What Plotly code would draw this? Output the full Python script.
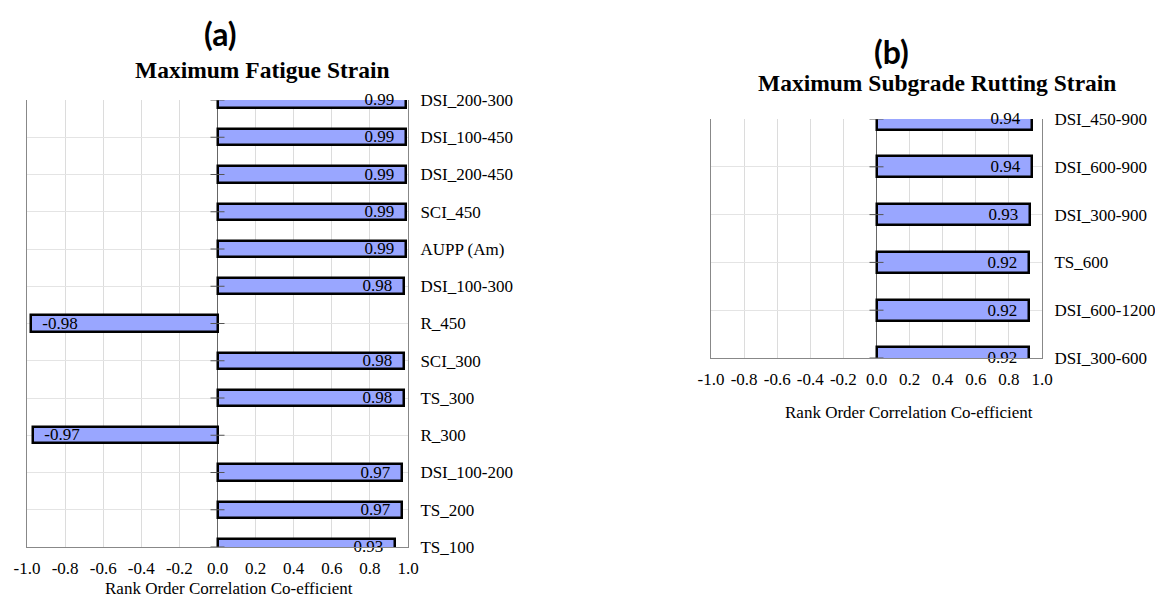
import plotly.graph_objects as go

# Panel (a): maximum fatigue strain, listed top to bottom
fatigue_params = ["DSI_200-300", "DSI_100-450", "DSI_200-450", "SCI_450", "AUPP (Am)",
                  "DSI_100-300", "R_450", "SCI_300", "TS_300", "R_300",
                  "DSI_100-200", "TS_200", "TS_100"]
fatigue_corr = [0.99, 0.99, 0.99, 0.99, 0.99, 0.98, -0.98, 0.98, 0.98, -0.97, 0.97, 0.97, 0.93]

# Panel (b): maximum subgrade rutting strain, listed top to bottom
rutting_params = ["DSI_450-900", "DSI_600-900", "DSI_300-900", "TS_600", "DSI_600-1200", "DSI_300-600"]
rutting_corr = [0.94, 0.94, 0.93, 0.92, 0.92, 0.92]

x_ticks = [-1.0, -0.8, -0.6, -0.4, -0.2, 0.0, 0.2, 0.4, 0.6, 0.8, 1.0]

W, H = 1155, 597
SERIF = "Liberation Serif"
BAR_FILL = "#99A6FF"
PAD = "\u00a0\u00a0"


def px_x(v):
    return v / W


def px_y(v):
    return 1 - v / H


def bar_label(v):
    # keep the value a little away from the bar's outer end
    s = f"{v:.2f}"
    return PAD + s if v < 0 else s + PAD


fig = go.Figure()


def add_panel(cats, vals, xa, ya):
    fig.add_trace(go.Bar(
        x=vals, y=cats, orientation="h", xaxis=xa, yaxis=ya,
        width=0.44,
        marker=dict(color=BAR_FILL, line=dict(color="black", width=2.5)),
        text=[bar_label(v) for v in vals],
        textposition="inside", insidetextanchor="end", constraintext="none",
        textangle=0,
        textfont=dict(family=SERIF, size=17, color="black"),
        cliponaxis=False, showlegend=False, hoverinfo="x+y",
    ))
    # short tick marks where each category crosses the zero line
    fig.add_trace(go.Scatter(
        x=[0] * len(cats), y=cats, mode="markers", xaxis=xa, yaxis=ya,
        marker=dict(symbol="line-ew", size=10, line=dict(color="#555", width=1)),
        showlegend=False, hoverinfo="skip",
    ))


add_panel(fatigue_params, fatigue_corr, "x", "y")
add_panel(rutting_params, rutting_corr, "x2", "y2")

tick_text = [f"{t:.1f}" for t in x_ticks]


def x_axis(domain, anchor):
    return dict(
        domain=domain, anchor=anchor, range=[-1, 1], automargin=False,
        tickvals=x_ticks, ticktext=tick_text, ticks="",
        tickfont=dict(family=SERIF, size=17, color="black"),
        ticklabelstandoff=6,
        showgrid=True, gridcolor="#dcdcdc", gridwidth=1,
        zeroline=True, zerolinecolor="#666", zerolinewidth=1,
        showline=True, linecolor="#888", linewidth=1, mirror=False,
        fixedrange=True,
    )


def y_axis(domain, anchor, cats):
    return dict(
        domain=domain, anchor=anchor, side="right", automargin=False,
        type="category", categoryorder="array", categoryarray=cats,
        range=[len(cats) - 1, 0],
        tickfont=dict(family=SERIF, size=17, color="black"),
        ticks="", ticklabelstandoff=8,
        showgrid=True, gridcolor="#e4e4e4", gridwidth=1,
        showline=True, linecolor="#888", linewidth=1, mirror=True,
        fixedrange=True,
    )


fig.update_layout(
    width=W, height=H,
    margin=dict(l=0, r=0, t=0, b=0, autoexpand=False),
    paper_bgcolor="white", plot_bgcolor="white",
    bargap=0,
    xaxis=x_axis([px_x(27), px_x(408)], "y"),
    yaxis=y_axis([1 - 547 / H, 1 - 100 / H], "x", fatigue_params),
    xaxis2=x_axis([px_x(711), px_x(1042)], "y2"),
    yaxis2=y_axis([1 - 358 / H, 1 - 119 / H], "x2", rutting_params),
)

annotations = [
    dict(text="<b>(a)</b>", x=px_x(220), y=px_y(33), font=dict(family="Lato", size=32, color="black")),
    dict(text="<b>Maximum Fatigue Strain</b>", x=px_x(262), y=px_y(70),
         font=dict(family=SERIF, size=23.5, color="black")),
    dict(text="Rank Order Correlation Co-efficient", x=px_x(229), y=px_y(588),
         font=dict(family=SERIF, size=17, color="black")),
    dict(text="<b>(b)</b>", x=px_x(891), y=px_y(51), font=dict(family="Lato", size=32, color="black")),
    dict(text="<b>Maximum Subgrade Rutting Strain</b>", x=px_x(937), y=px_y(83),
         font=dict(family=SERIF, size=23.5, color="black")),
    dict(text="Rank Order Correlation Co-efficient", x=px_x(909), y=px_y(412),
         font=dict(family=SERIF, size=17, color="black")),
]
for a in annotations:
    fig.add_annotation(xref="paper", yref="paper", showarrow=False,
                       xanchor="center", yanchor="middle", **a)

fig.write_html("out.html")
